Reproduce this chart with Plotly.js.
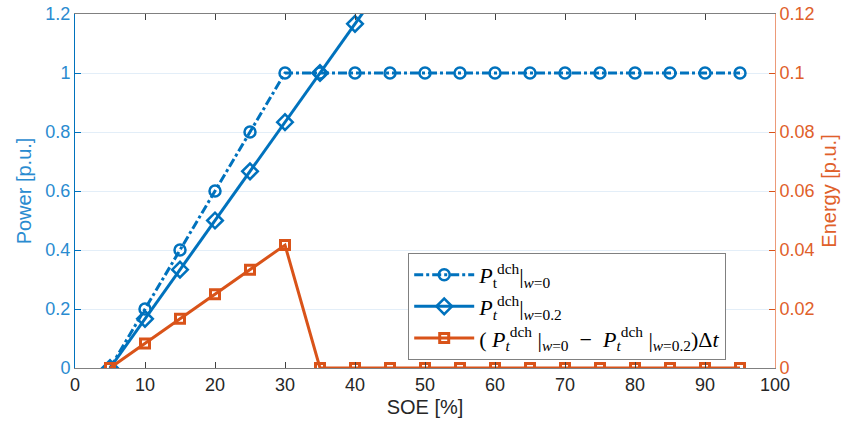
<!DOCTYPE html>
<html>
<head>
<meta charset="utf-8">
<script src="https://cdn.plot.ly/plotly-3.0.1.min.js"></script>
<style>html,body{margin:0;padding:0;background:#fff;}#chart{width:859px;height:435px;}</style>
</head>
<body>
<div id="chart"></div>
<script>
// Data
const soe = [5,10,15,20,25,30,35,40,45,50,55,60,65,70,75,80,85,90,95];
const pW0 = [0,0.2,0.4,0.6,0.8,1,1,1,1,1,1,1,1,1,1,1,1,1,1];
const soeW02 = [5,10,15,20,25,30,35,40,45];
const pW02 = [0,0.1667,0.3333,0.5,0.6667,0.8333,1,1.1667,1.3333];
const energy = [0,0.00833,0.01667,0.025,0.03333,0.04167,0,0,0,0,0,0,0,0,0,0,0,0,0];
const names = [
  '<i>P</i><sub>t</sub><sup>dch</sup>|<sub><i>w</i>=0</sub>',
  '<i>P</i><sub><i>t</i></sub><sup>dch</sup>|<sub><i>w</i>=0.2</sub>',
  '( <i>P</i><sub><i>t</i></sub><sup>dch</sup> |<sub><i>w</i>=0</sub>  \u2212  <i>P</i><sub><i>t</i></sub><sup>dch</sup> |<sub><i>w</i>=0.2</sub>)\u0394<i>t</i>'
];
const blue = '#0072BD', orange = '#D95319';

const traces = [
  {x: soe, y: pW0, name: names[0], mode: 'lines+markers', type: 'scatter',
   line: {color: blue, width: 3, dash: 'dashdot'},
   marker: {symbol: 'circle-open', size: 11, color: blue, line: {width: 2.5, color: blue}}},
  {x: soeW02, y: pW02, name: names[1], mode: 'lines+markers', type: 'scatter',
   line: {color: blue, width: 3},
   marker: {symbol: 'diamond-open', size: 12, color: blue, line: {width: 2.5, color: blue}}},
  {x: soe, y: energy, name: names[2], yaxis: 'y2', mode: 'lines+markers', type: 'scatter',
   line: {color: orange, width: 3},
   marker: {symbol: 'square-open', size: 9, color: orange, line: {width: 3, color: orange}}}
];

const layout = {
  width: 859, height: 435,
  margin: {l: 75, r: 84, t: 14, b: 67},
  paper_bgcolor: '#fff', plot_bgcolor: '#fff',
  font: {family: 'Liberation Sans, Arial, sans-serif', size: 18, color: '#262626'},
  showlegend: true,
  legend: {x: 0.476, y: 0.325, xanchor: 'left', yanchor: 'top',
    bgcolor: '#fff', bordercolor: '#808080', borderwidth: 1,
    font: {family: 'Liberation Serif, DejaVu Serif, serif', size: 22, color: '#000'},
    tracegroupgap: 0, itemwidth: 60},
  xaxis: {range: [0, 100], dtick: 10, tick0: 0, showgrid: false, zeroline: false,
    showline: true, linecolor: '#808080', linewidth: 1, mirror: 'ticks',
    ticks: 'inside', ticklen: 6, tickcolor: '#404040',
    tickfont: {size: 18, color: '#262626'},
    title: {text: 'SOE [%]', font: {size: 20, color: '#262626'}, standoff: 6}},
  yaxis: {range: [0, 1.2], dtick: 0.2, tick0: 0, showgrid: true, gridcolor: '#e3eef8', zeroline: false,
    showline: true, linecolor: blue, linewidth: 1, ticks: 'inside', ticklen: 6, tickcolor: blue,
    tickfont: {size: 18, color: '#2a8bd0'},
    title: {text: 'Power [p.u.]', font: {size: 20, color: '#2a8bd0'}, standoff: 8}},
  yaxis2: {range: [0, 0.12], dtick: 0.02, tick0: 0, overlaying: 'y', side: 'right', showgrid: false, zeroline: false,
    showline: true, linecolor: '#ec9a78', linewidth: 1, ticks: 'inside', ticklen: 6, tickcolor: orange,
    tickfont: {size: 18, color: '#e0602a'},
    title: {text: 'Energy [p.u.]', font: {size: 20, color: '#e0602a'}, standoff: 8}}
};

Plotly.newPlot('chart', traces, layout, {displayModeBar: false, staticPlot: true});
</script>
</body>
</html>
